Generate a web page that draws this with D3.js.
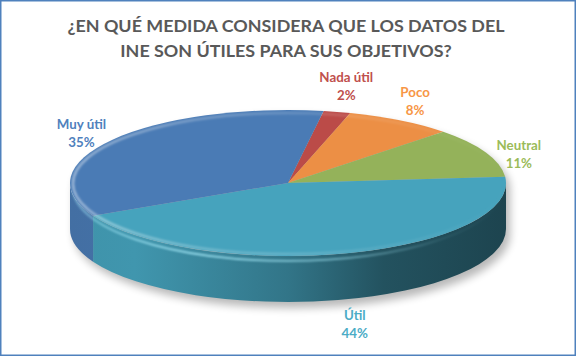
<!DOCTYPE html>
<html><head><meta charset="utf-8">
<script src="https://cdn.jsdelivr.net/npm/d3@7"></script>
<style>body{margin:0;background:#fff}svg{display:block}</style>
</head><body>
<script>
// ---- data ----
const titleLines = ["¿EN QUÉ MEDIDA CONSIDERA QUE LOS DATOS DEL", "INE SON ÚTILES PARA SUS OBJETIVOS?"];
const categories = ["Nada útil", "Poco", "Neutral", "Útil", "Muy útil"];
const values = [2, 8, 11, 44, 35];
const topColors = ["#BB4B48", "#EC8F45", "#94B25A", "#46A3BD", "#4A7BB5"];
const labelColors = ["#C0504D", "#F79646", "#9BBB59", "#4BACC6", "#4F81BD"];

const W = 576, H = 357;
const cx = 288, cy = 183, rx = 218, ry = 73, depth = 46;
const startDeg = 9.4;

const svg = d3.select("body").append("svg").attr("width", W).attr("height", H);
const defs = svg.append("defs");

svg.append("rect").attr("x", 0).attr("y", 0).attr("width", W).attr("height", H).attr("fill", "#fff");

// title
const title = svg.append("g");
titleLines.forEach((t, i) => {
  title.append("text").attr("x", 286).attr("y", 31.5 + i * 25.5)
    .attr("text-anchor", "middle")
    .attr("font-family", "Lato, 'Open Sans', sans-serif")
    .attr("font-weight", "bold").attr("font-size", 17.9)
    .attr("fill", "#595959").text(t);
});

const pie = d3.pie().sort(null).value(d => d)
  .startAngle(startDeg * Math.PI / 180)
  .endAngle(startDeg * Math.PI / 180 + 2 * Math.PI);
const arcs = pie(values);

const pt = (a, dy = 0, k = 1) => [cx + rx * k * Math.sin(a), cy - ry * k * Math.cos(a) + dy];

function topPath(a0, a1) {
  const p0 = pt(a0), p1 = pt(a1);
  const large = (a1 - a0) > Math.PI ? 1 : 0;
  return `M${cx},${cy}L${p0[0]},${p0[1]}A${rx},${ry} 0 ${large} 1 ${p1[0]},${p1[1]}Z`;
}
function sidePath(s, e) {
  const p0 = pt(s), p1 = pt(e), q1 = pt(e, depth), q0 = pt(s, depth);
  return `M${p0[0]},${p0[1]}A${rx},${ry} 0 0 1 ${p1[0]},${p1[1]}L${q1[0]},${q1[1]}A${rx},${ry} 0 0 0 ${q0[0]},${q0[1]}Z`;
}
function frontParts(a0, a1) {
  const out = [];
  for (const off of [0, 2 * Math.PI]) {
    const lo = Math.PI / 2 + off, hi = 3 * Math.PI / 2 + off;
    const s = Math.max(a0, lo), e = Math.min(a1, hi);
    if (e > s) out.push([s, e]);
  }
  return out;
}

// filters
const blur = defs.append("filter").attr("id", "shadow").attr("x", "-20%").attr("y", "-20%").attr("width", "140%").attr("height", "160%");
blur.append("feGaussianBlur").attr("stdDeviation", 4);
const blur2 = defs.append("filter").attr("id", "soft").attr("x", "-10%").attr("y", "-50%").attr("width", "120%").attr("height", "200%");
blur2.append("feGaussianBlur").attr("stdDeviation", 1.1);

// shadow
const L = pt(-Math.PI / 2), R = pt(Math.PI / 2);
svg.append("path")
  .attr("d", `M${L[0]},${L[1]}A${rx},${ry} 0 0 1 ${R[0]},${R[1]}L${R[0]},${R[1] + depth}A${rx},${ry} 0 0 1 ${L[0]},${L[1] + depth}Z`)
  .attr("transform", "translate(4,6)")
  .attr("fill", "#000").attr("opacity", 0.28).attr("filter", "url(#shadow)");

// side gradients
arcs.forEach((d, i) => {
  const c = d3.rgb(topColors[i]);
  const g = defs.append("linearGradient").attr("id", "side" + i)
    .attr("gradientUnits", "userSpaceOnUse")
    .attr("x1", cx - rx).attr("x2", cx + rx).attr("y1", 0).attr("y2", 0);
  [[0, 0.9], [0.15, 0.92], [0.5, 0.72], [0.72, 0.5], [1, 0.42]].forEach(([o, f]) => {
    g.append("stop").attr("offset", o).attr("stop-color", d3.rgb(c.r * f, c.g * f, c.b * f).formatHex());
  });
});

// sides
const sides = svg.append("g");
arcs.forEach((d, i) => {
  frontParts(d.startAngle, d.endAngle).forEach(([s, e]) => {
    sides.append("path").attr("d", sidePath(s, e)).attr("fill", `url(#side${i})`);
  });
});

// bevel highlight line on the side wall
const hlGrad = defs.append("linearGradient").attr("id", "hlg")
  .attr("gradientUnits", "userSpaceOnUse").attr("x1", cx - rx).attr("x2", cx + rx).attr("y1", 0).attr("y2", 0);
[[0, 0.5], [0.3, 0.9], [0.6, 0.6], [0.85, 0.1], [1, 0]].forEach(([o, a]) =>
  hlGrad.append("stop").attr("offset", o).attr("stop-color", "#a8ecfb").attr("stop-opacity", a));
const hl = pt(-Math.PI / 2, 5), hr = pt(Math.PI / 2, 5);
svg.append("path")
  .attr("d", `M${hl[0] + 3},${hl[1]}A${rx - 3},${ry} 0 0 0 ${hr[0] - 3},${hr[1]}`)
  .attr("fill", "none").attr("stroke", "url(#hlg)").attr("stroke-width", 1.8)
  .attr("filter", "url(#soft)");

// tops
const tops = svg.append("g");
arcs.forEach((d, i) => {
  tops.append("path").attr("d", topPath(d.startAngle, d.endAngle)).attr("fill", topColors[i]);
});
// top rim highlight (bevel)
const rimGrad = defs.append("linearGradient").attr("id", "rimg")
  .attr("gradientUnits", "userSpaceOnUse").attr("x1", cx - rx).attr("x2", cx + rx).attr("y1", 0).attr("y2", 0);
[[0, 0.45], [0.3, 0.25], [0.7, 0.1], [1, 0.0]].forEach(([o, a]) =>
  rimGrad.append("stop").attr("offset", o).attr("stop-color", "#ffffff").attr("stop-opacity", a));
svg.append("ellipse").attr("cx", cx).attr("cy", cy + 0.5).attr("rx", rx - 3).attr("ry", ry - 2.5)
  .attr("fill", "none").attr("stroke", "url(#rimg)").attr("stroke-width", 2.5).attr("filter", "url(#soft)");

// labels
const lab = svg.append("g").attr("font-family", "Lato, 'Open Sans', sans-serif")
  .attr("font-weight", "bold").attr("font-size", 13.33).attr("text-anchor", "middle");
arcs.forEach((d, i) => {
  const m = (d.startAngle + d.endAngle) / 2;
  const sx = Math.sin(m), sy = -Math.cos(m);
  const t1 = lab.append("text").attr("fill", labelColors[i]).text(categories[i]);
  const t2 = lab.append("text").attr("fill", labelColors[i]).text(d.value + "%");
  const halfW = Math.max(t1.node().getComputedTextLength(), t2.node().getComputedTextLength()) / 2;
  const x = cx + sx * (rx + 14 + halfW);
  const yc = cy + depth / 2 + sy * (ry + depth / 2 + 27);
  t1.attr("x", x).attr("y", yc - 4);
  t2.attr("x", x).attr("y", yc + 14);
});

// border
svg.append("rect").attr("x", 0.75).attr("y", 0.75).attr("width", W - 1.5).attr("height", H - 2.5)
  .attr("fill", "none").attr("stroke", "#4F81BD").attr("stroke-width", 1.5);
</script>
</body></html>
